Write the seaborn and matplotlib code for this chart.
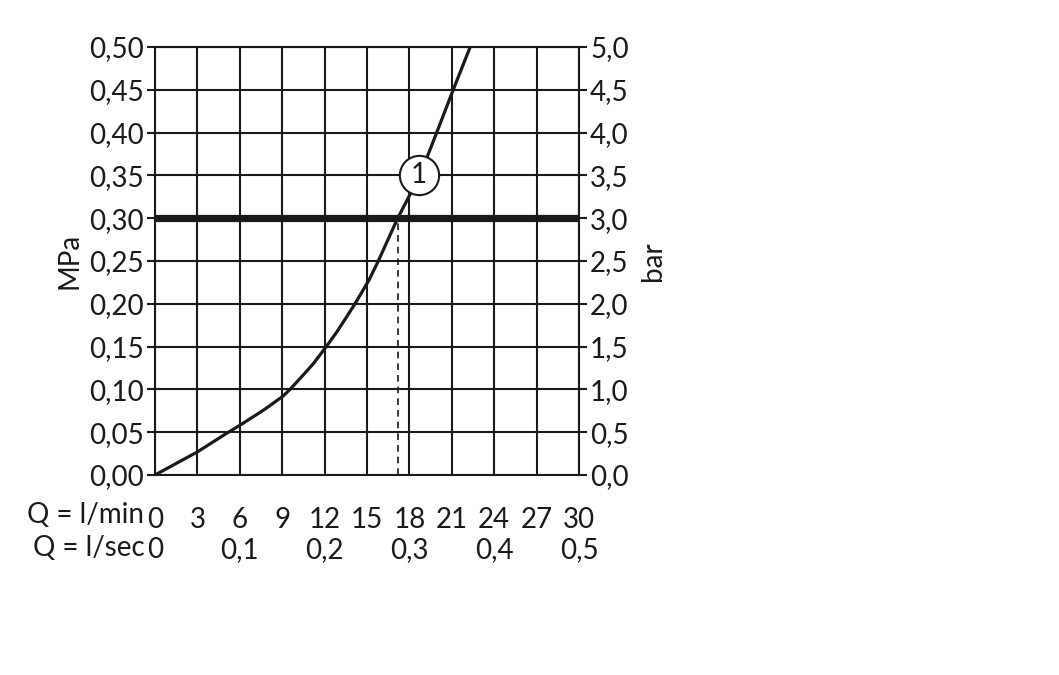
import matplotlib
matplotlib.use("Agg")
import matplotlib.pyplot as plt
import seaborn as sns
import pandas as pd

# ---- data ----
flow_lmin = [0, 3, 5, 6, 7.7, 9.05, 9.55, 10.5, 11.2, 12.03, 12.86, 13.57, 14.15,
             15.15, 15.8, 17.17, 18.75, 19.93, 21.1, 22.3]
pressure_mpa = [0, 0.027, 0.048, 0.058, 0.076, 0.092, 0.10, 0.117, 0.130, 0.148, 0.167,
                0.185, 0.20, 0.228, 0.25, 0.30, 0.35, 0.40, 0.45, 0.50]
ref_pressure = 0.30
ref_flow = 17.17
marker_flow = 18.66
marker_pressure = 0.351
marker_label = "1"

xticks_lmin = [0, 3, 6, 9, 12, 15, 18, 21, 24, 27, 30]
xticks_lsec = [0, 0.1, 0.2, 0.3, 0.4, 0.5]
yticks_mpa = [0, 0.05, 0.10, 0.15, 0.20, 0.25, 0.30, 0.35, 0.40, 0.45, 0.50]
yticks_bar = [0, 0.5, 1.0, 1.5, 2.0, 2.5, 3.0, 3.5, 4.0, 4.5, 5.0]
ylabel_left = "MPa"
ylabel_right = "bar"
row1_label = "Q = l/min"
row2_label = "Q = l/sec"

sns.set_style("white")
plt.rcParams["font.family"] = ["Lato", "DejaVu Sans"]
FS = 20
ink = "#1a1a1a"

fig = plt.figure(figsize=(10.59, 6.75), dpi=100)
ax = fig.add_axes([155 / 1059, 1 - 475 / 675, 424 / 1059, 428 / 675])

df = pd.DataFrame({"Q": flow_lmin, "P": pressure_mpa})
sns.lineplot(data=df, x="Q", y="P", ax=ax, color=ink, linewidth=2.3, zorder=4)

ax.axhline(ref_pressure, color=ink, linewidth=5.2, zorder=3)
ax.plot([ref_flow, ref_flow], [0, ref_pressure], color=ink, linewidth=1.2,
        linestyle=(0, (4, 3)), zorder=3)

ax.scatter([marker_flow], [marker_pressure], s=800, facecolor="white",
           edgecolor=ink, linewidth=1.5, zorder=6)
ax.text(marker_flow, marker_pressure, marker_label, ha="center", va="center",
        fontsize=FS, color=ink, zorder=7)

ax.set_xlim(0, 30)
ax.set_ylim(0, 0.5)
ax.set_xticks(xticks_lmin)
ax.set_xticklabels([str(v) for v in xticks_lmin])
ax.set_yticks(yticks_mpa)
ax.set_yticklabels([f"{v:.2f}".replace(".", ",") for v in yticks_mpa])
ax.grid(True, color=ink, linewidth=1.5)
ax.set_axisbelow(True)
for s in ax.spines.values():
    s.set_color(ink)
    s.set_linewidth(1.5)
ax.tick_params(axis="y", direction="out", length=6, width=1.5, color=ink,
               labelsize=FS, pad=2, labelcolor=ink)
ax.tick_params(axis="x", direction="out", length=6, width=1.5, color=ink,
               labelsize=FS, pad=17, labelcolor=ink)
ax.set_xlabel("")
ax.set_ylabel(ylabel_left, fontsize=FS, color=ink, labelpad=5)

ax2 = ax.twinx()
ax2.set_ylim(0, 5)
ax2.set_yticks(yticks_bar)
ax2.set_yticklabels([f"{v:.1f}".replace(".", ",") for v in yticks_bar])
ax2.tick_params(axis="y", direction="out", length=6, width=1.5, color=ink,
                labelsize=FS, pad=2, labelcolor=ink)
for s in ax2.spines.values():
    s.set_visible(False)
ax2.set_ylabel(ylabel_right, fontsize=FS, color=ink, labelpad=8)
ax2.grid(False)

sec = ax.secondary_xaxis("bottom", functions=(lambda x: x / 60, lambda x: x * 60))
sec.set_xticks(xticks_lsec)
sec.set_xticklabels(["0" if v == 0 else f"{v:.1f}".replace(".", ",") for v in xticks_lsec])
sec.tick_params(length=0, labelsize=FS, pad=45, labelcolor=ink)
sec.spines["bottom"].set_visible(False)

ax.text(-0.025, -0.094, row1_label, transform=ax.transAxes, ha="right", va="center",
        fontsize=FS, color=ink)
ax.text(-0.025, -0.171, row2_label, transform=ax.transAxes, ha="right", va="center",
        fontsize=FS, color=ink)

fig.savefig("out.png", dpi=100, facecolor="white")
